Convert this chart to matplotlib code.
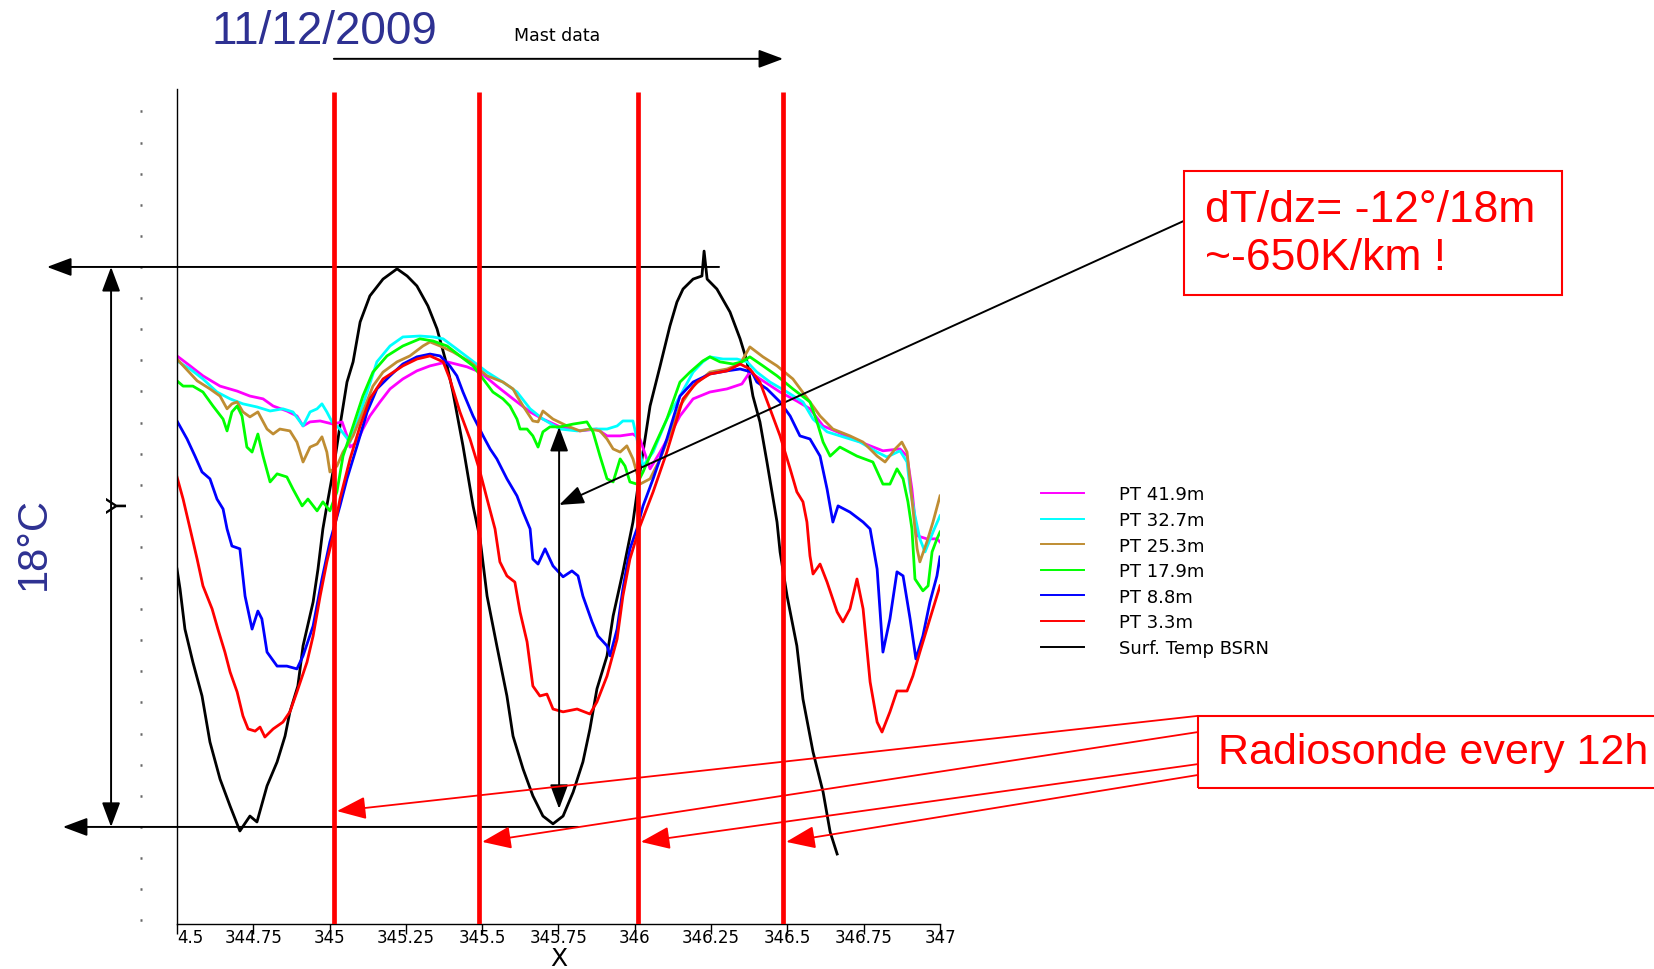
import numpy as np
import matplotlib.pyplot as plt
from matplotlib.lines import Line2D
from matplotlib.patches import Rectangle

# ---------------- dati (giorno dell'anno, temperatura in °C) ----------------
t_sfc = [344.500, 344.510, 344.526, 344.552, 344.582, 344.608, 344.641, 344.674, 344.706, 344.739,
         344.762, 344.795, 344.828, 344.854, 344.870, 344.896, 344.913, 344.946, 344.962, 344.978,
         344.991, 345.011, 345.034, 345.057, 345.077, 345.100, 345.132, 345.175, 345.221, 345.254,
         345.286, 345.322, 345.352, 345.385, 345.404, 345.437, 345.470, 345.493, 345.516, 345.548,
         345.581, 345.601, 345.634, 345.666, 345.699, 345.732, 345.765, 345.798, 345.830, 345.853,
         345.876, 345.909, 345.929, 345.961, 345.994, 346.017, 346.050, 346.083, 346.115, 346.138,
         346.158, 346.191, 346.220, 346.227, 346.237, 346.269, 346.312, 346.345, 346.368, 346.387,
         346.410, 346.433, 346.466, 346.476, 346.499, 346.531, 346.551, 346.584, 346.617, 346.640,
         346.663]
T_sfc = [-36.71, -37.35, -38.64, -39.70, -40.79, -42.27, -43.46, -44.33, -45.13, -44.65,
         -44.84, -43.68, -42.91, -42.08, -41.30, -40.47, -39.18, -37.77, -36.71, -35.42,
         -34.68, -33.59, -32.11, -30.70, -30.05, -28.77, -27.93, -27.39, -27.06, -27.29,
         -27.61, -28.25, -28.99, -30.18, -31.02, -32.75, -34.68, -35.74, -37.58, -39.18,
         -40.79, -42.08, -43.14, -44.00, -44.65, -44.90, -44.65, -43.88, -42.91, -41.85,
         -40.56, -39.50, -38.22, -36.80, -35.20, -33.59, -31.47, -30.18, -28.90, -28.13,
         -27.71, -27.39, -27.29, -26.49, -27.39, -27.71, -28.45, -29.31, -30.05, -31.15,
         -31.98, -33.27, -35.20, -36.16, -37.58, -39.18, -40.89, -42.59, -43.88, -45.16,
         -45.87]

t_pt419 = [344.500, 344.543, 344.585, 344.641, 344.697, 344.739, 344.782, 344.815, 344.860, 344.893,
           344.913, 344.936, 344.969, 345.011, 345.041, 345.057, 345.067, 345.090, 345.109, 345.132,
           345.165, 345.198, 345.240, 345.286, 345.329, 345.385, 345.450, 345.493, 345.548, 345.601,
           345.657, 345.699, 345.755, 345.820, 345.876, 345.909, 345.952, 345.994, 346.017, 346.050,
           346.083, 346.125, 346.148, 346.191, 346.246, 346.302, 346.351, 346.377, 346.420, 346.476,
           346.531, 346.574, 346.617, 346.663, 346.715, 346.771, 346.813, 346.869, 346.892, 346.908,
           346.918, 346.928, 346.957, 346.990, 347.000]
T_pt419 = [-29.86, -30.18, -30.50, -30.83, -30.99, -31.15, -31.24, -31.47, -31.63, -31.79,
           -32.11, -31.98, -31.95, -32.05, -31.98, -32.43, -32.79, -32.63, -32.21, -31.79,
           -31.34, -30.92, -30.60, -30.34, -30.18, -30.05, -30.21, -30.38, -30.83, -31.24,
           -31.66, -31.89, -32.14, -32.27, -32.21, -32.43, -32.43, -32.37, -32.53, -33.49,
           -32.95, -32.21, -31.79, -31.24, -31.02, -30.92, -30.76, -30.38, -30.66, -31.02,
           -31.31, -31.56, -32.11, -32.30, -32.53, -32.75, -32.91, -32.85, -33.08, -34.14,
           -35.10, -35.65, -35.74, -35.74, -35.84]

t_pt327 = [344.500, 344.543, 344.585, 344.631, 344.674, 344.716, 344.762, 344.805, 344.847, 344.880,
           344.913, 344.936, 344.959, 344.975, 344.991, 345.008, 345.034, 345.067, 345.090, 345.123,
           345.155, 345.198, 345.240, 345.296, 345.339, 345.372, 345.417, 345.460, 345.516, 345.568,
           345.614, 345.657, 345.699, 345.755, 345.811, 345.863, 345.909, 345.942, 345.961, 345.994,
           346.007, 346.027, 346.060, 346.105, 346.148, 346.191, 346.223, 346.246, 346.289, 346.335,
           346.368, 346.400, 346.443, 346.499, 346.551, 346.584, 346.630, 346.682, 346.738, 346.794,
           346.826, 346.869, 346.892, 346.902, 346.918, 346.934, 346.951, 346.977, 347.000]
T_pt327 = [-30.02, -30.28, -30.60, -31.02, -31.24, -31.40, -31.50, -31.63, -31.56, -31.66,
           -32.11, -31.66, -31.56, -31.40, -31.66, -31.98, -32.21, -32.63, -31.98, -31.02,
           -30.05, -29.54, -29.25, -29.22, -29.25, -29.31, -29.64, -29.96, -30.38, -30.70,
           -31.02, -31.56, -31.89, -32.21, -32.27, -32.21, -32.21, -32.11, -31.95, -31.95,
           -32.53, -33.40, -32.95, -31.89, -31.15, -30.38, -30.05, -29.89, -29.96, -29.96,
           -30.05, -30.38, -30.70, -31.02, -31.34, -31.89, -32.30, -32.46, -32.63, -32.95,
           -33.11, -32.91, -33.27, -34.14, -35.00, -35.74, -36.16, -35.52, -35.00]

t_pt253 = [344.500, 344.566, 344.608, 344.641, 344.664, 344.680, 344.697, 344.716, 344.739, 344.765,
           344.795, 344.815, 344.837, 344.870, 344.893, 344.913, 344.936, 344.959, 344.975, 344.991,
           345.001, 345.024, 345.044, 345.077, 345.109, 345.142, 345.175, 345.221, 345.263, 345.306,
           345.329, 345.362, 345.404, 345.460, 345.516, 345.568, 345.601, 345.614, 345.634, 345.666,
           345.683, 345.699, 345.732, 345.778, 345.820, 345.853, 345.886, 345.909, 345.929, 345.952,
           345.974, 345.994, 346.017, 346.050, 346.083, 346.125, 346.148, 346.191, 346.246, 346.302,
           346.345, 346.377, 346.420, 346.466, 346.518, 346.574, 346.607, 346.649, 346.705, 346.748,
           346.794, 346.820, 346.853, 346.875, 346.892, 346.902, 346.925, 346.934, 346.957, 346.977,
           347.000]
T_pt253 = [-29.96, -30.66, -30.92, -31.15, -31.56, -31.40, -31.34, -31.66, -31.82, -31.66,
           -32.21, -32.37, -32.21, -32.27, -32.63, -33.27, -32.79, -32.69, -32.46, -32.95,
           -33.59, -33.40, -32.95, -32.43, -31.66, -30.83, -30.38, -30.05, -29.86, -29.54,
           -29.41, -29.54, -29.73, -30.05, -30.50, -30.70, -30.92, -31.15, -31.47, -31.95,
           -31.98, -31.63, -31.89, -32.11, -32.27, -32.21, -32.27, -32.53, -32.85, -32.95,
           -32.75, -33.17, -33.98, -33.81, -33.17, -32.11, -31.47, -30.83, -30.38, -30.28,
           -30.12, -29.57, -29.89, -30.18, -30.60, -31.34, -31.79, -32.21, -32.43, -32.63,
           -33.08, -33.27, -32.85, -32.63, -32.95, -33.91, -36.06, -36.48, -35.84, -35.20,
           -34.36]

t_pt179 = [344.500, 344.520, 344.552, 344.585, 344.618, 344.651, 344.664, 344.680, 344.697, 344.713,
           344.729, 344.746, 344.765, 344.782, 344.805, 344.828, 344.860, 344.880, 344.910, 344.929,
           344.959, 344.978, 345.001, 345.024, 345.044, 345.077, 345.109, 345.142, 345.188, 345.240,
           345.296, 345.339, 345.385, 345.427, 345.470, 345.503, 345.535, 345.568, 345.591, 345.614,
           345.624, 345.647, 345.666, 345.683, 345.699, 345.722, 345.755, 345.798, 345.843, 345.863,
           345.886, 345.909, 345.929, 345.952, 345.968, 345.984, 346.007, 346.027, 346.060, 346.105,
           346.148, 346.181, 346.223, 346.246, 346.279, 346.322, 346.351, 346.377, 346.420, 346.466,
           346.518, 346.574, 346.597, 346.617, 346.640, 346.672, 346.728, 346.780, 346.813, 346.836,
           346.859, 346.879, 346.895, 346.908, 346.918, 346.944, 346.961, 346.974, 346.990, 347.000]
T_pt179 = [-30.66, -30.83, -30.83, -31.02, -31.47, -31.89, -32.27, -31.66, -31.47, -31.79,
           -32.79, -32.95, -32.37, -33.08, -33.91, -33.65, -33.75, -34.14, -34.68, -34.46,
           -34.84, -34.55, -34.84, -34.23, -33.08, -32.11, -31.15, -30.38, -29.86, -29.54,
           -29.31, -29.38, -29.54, -29.86, -30.18, -30.60, -31.02, -31.24, -31.47, -31.89,
           -32.21, -32.21, -32.43, -32.79, -32.30, -32.14, -32.14, -32.05, -31.98, -32.30,
           -33.08, -33.81, -33.91, -33.17, -33.40, -33.91, -33.98, -33.59, -32.85, -31.89,
           -30.70, -30.38, -30.02, -29.89, -30.05, -30.12, -30.05, -29.89, -30.18, -30.50,
           -30.92, -31.34, -31.98, -32.63, -33.08, -32.79, -33.08, -33.27, -33.98, -33.98,
           -33.49, -33.81, -34.55, -35.42, -37.03, -37.41, -37.25, -36.16, -35.74, -35.52]

t_pt88 = [344.500, 344.533, 344.559, 344.582, 344.608, 344.631, 344.651, 344.664, 344.680, 344.706,
          344.723, 344.746, 344.765, 344.778, 344.795, 344.828, 344.860, 344.893, 344.913, 344.946,
          344.975, 345.001, 345.034, 345.057, 345.090, 345.123, 345.155, 345.198, 345.240, 345.286,
          345.329, 345.362, 345.394, 345.417, 345.437, 345.470, 345.503, 345.526, 345.548, 345.581,
          345.614, 345.634, 345.657, 345.666, 345.683, 345.706, 345.732, 345.765, 345.794, 345.814,
          345.830, 345.860, 345.879, 345.909, 345.919, 345.942, 345.961, 345.984, 346.007, 346.027,
          346.060, 346.105, 346.148, 346.191, 346.246, 346.302, 346.345, 346.384, 346.400, 346.433,
          346.476, 346.509, 346.541, 346.574, 346.607, 346.630, 346.649, 346.666, 346.705, 346.748,
          346.771, 346.794, 346.813, 346.836, 346.859, 346.879, 346.902, 346.921, 346.944, 346.967,
          346.990, 347.000]
T_pt88 = [-31.95, -32.53, -33.08, -33.59, -33.81, -34.46, -34.78, -35.42, -35.97, -36.06,
          -37.58, -38.64, -38.06, -38.31, -39.38, -39.83, -39.83, -39.92, -39.50, -38.54,
          -37.03, -35.84, -34.68, -33.81, -32.75, -31.66, -30.92, -30.50, -30.12, -29.89,
          -29.80, -29.86, -30.18, -30.50, -31.02, -31.79, -32.43, -32.85, -33.17, -33.81,
          -34.36, -34.88, -35.42, -36.39, -36.55, -36.06, -36.61, -36.96, -36.77, -36.93,
          -37.58, -38.41, -38.86, -39.18, -39.50, -38.64, -37.35, -36.06, -35.42, -34.68,
          -33.81, -32.53, -31.15, -30.70, -30.44, -30.34, -30.28, -30.38, -30.70, -30.92,
          -31.34, -31.79, -32.43, -32.53, -33.08, -34.14, -35.20, -34.68, -34.88, -35.20,
          -35.42, -36.71, -39.38, -38.31, -36.80, -36.93, -38.31, -39.60, -38.86, -37.77,
          -36.93, -36.32]

t_pt33 = [344.500, 344.520, 344.543, 344.566, 344.585, 344.615, 344.634, 344.657, 344.674, 344.697,
          344.716, 344.733, 344.756, 344.772, 344.788, 344.815, 344.847, 344.870, 344.893, 344.926,
          344.946, 344.969, 344.991, 345.011, 345.034, 345.067, 345.100, 345.132, 345.175, 345.240,
          345.286, 345.329, 345.372, 345.394, 345.427, 345.460, 345.493, 345.516, 345.542, 345.558,
          345.581, 345.607, 345.624, 345.647, 345.666, 345.689, 345.712, 345.732, 345.765, 345.811,
          345.853, 345.876, 345.909, 345.942, 345.961, 345.984, 346.017, 346.060, 346.105, 346.158,
          346.204, 346.246, 346.302, 346.345, 346.377, 346.410, 346.443, 346.476, 346.509, 346.531,
          346.551, 346.564, 346.574, 346.584, 346.607, 346.630, 346.663, 346.682, 346.705, 346.728,
          346.748, 346.771, 346.794, 346.810, 346.836, 346.859, 346.892, 346.911, 346.934, 346.967,
          347.000]
T_pt33 = [-33.75, -34.46, -35.42, -36.39, -37.25, -37.99, -38.64, -39.38, -40.02, -40.66,
          -41.43, -41.85, -41.92, -41.79, -42.11, -41.85, -41.63, -41.30, -40.66, -39.70,
          -38.86, -37.58, -36.48, -35.65, -34.46, -33.17, -32.11, -31.24, -30.60, -30.18,
          -29.96, -29.86, -30.05, -30.60, -31.66, -32.53, -33.59, -34.46, -35.42, -36.48,
          -36.93, -37.13, -38.09, -39.05, -40.47, -40.79, -40.73, -41.21, -41.30, -41.21,
          -41.37, -40.98, -40.15, -38.96, -37.58, -36.39, -35.33, -34.23, -32.95, -31.24,
          -30.70, -30.44, -30.34, -30.12, -30.28, -30.70, -31.56, -32.43, -33.49, -34.23,
          -34.55, -35.20, -36.29, -36.87, -36.55, -37.13, -38.09, -38.41, -37.99, -37.03,
          -37.99, -40.34, -41.63, -41.95, -41.30, -40.63, -40.63, -40.15, -39.38, -38.31,
          -37.25]

serie = [
    ("PT 41.9m", t_pt419, T_pt419, "#FF00FF"),
    ("PT 32.7m", t_pt327, T_pt327, "#00FFFF"),
    ("PT 25.3m", t_pt253, T_pt253, "#BF8D33"),
    ("PT 17.9m", t_pt179, T_pt179, "#00FF00"),
    ("PT 8.8m", t_pt88, T_pt88, "#0000FF"),
    ("PT 3.3m", t_pt33, T_pt33, "#FF0000"),
]

radiosonde = [345.014, 345.490, 346.010, 346.486]   # lanci ogni 12h
xticks = [344.5, 344.75, 345, 345.25, 345.5, 345.75, 346, 346.25, 346.5, 346.75, 347]
xlabels = ["4.5", "344.75", "345", "345.25", "345.5", "345.75", "346", "346.25", "346.5", "346.75", "347"]

T_max, T_min = -27.0, -45.0
blu = "#2E3192"

# ---------------- figura ----------------
fig = plt.figure(figsize=(16.54, 9.70), dpi=100)
ax = fig.add_axes([0.10701, 0.04639, 0.46131, 0.86082])
ax.set_xlim(344.5, 347.0)
ax.set_ylim(-48.12, -21.28)

ax.plot(t_sfc, T_sfc, color="black", lw=2.0, zorder=2)
for nome, t, T, col in serie:
    ax.plot(t, T, color=col, lw=2.0, zorder=3)
ax.vlines(radiosonde, -48.12, -21.37, color="#FF0000", lw=3.4, zorder=5)

# assi: linea sinistra piena, tacche a puntini spostate a sinistra
ax.spines["top"].set_visible(False)
ax.spines["right"].set_visible(False)
ax.spines["left"].set_position(("outward", 25))
ax.spines["left"].set_visible(False)
ax.axvline(344.5, color="black", lw=1.0, clip_on=False, zorder=6)
ax.spines["bottom"].set_linewidth(1.0)
ax.set_yticks(np.arange(-48, -21))
ax.tick_params(axis="y", length=1.8, width=1.8, color="#666666", labelleft=False)
ax.set_xticks(xticks, labels=xlabels)
ax.tick_params(axis="x", direction="out", length=7, width=1, pad=-4, labelsize=12)
ax.get_xticklabels()[0].set_horizontalalignment("left")
ax.set_xlabel("X", fontsize=18, labelpad=0)
ax.set_ylabel("Y", fontsize=19)
ax.yaxis.set_label_coords(-0.057, 0.5018)

# frecce nere (escursione di 18°C)
testa = dict(color="black", lw=1.4, shrinkA=0, shrinkB=0, mutation_scale=20)
ax.annotate("", xy=(344.074, T_max), xytext=(346.276, T_max), annotation_clip=False,
            arrowprops=dict(arrowstyle="-|>,head_length=0.75,head_width=0.28", **testa))
ax.annotate("", xy=(344.126, T_min), xytext=(345.814, T_min), annotation_clip=False,
            arrowprops=dict(arrowstyle="-|>,head_length=0.75,head_width=0.28", **testa))
ax.annotate("", xy=(344.284, T_max), xytext=(344.284, T_min), annotation_clip=False,
            arrowprops=dict(arrowstyle="<|-|>,head_length=0.75,head_width=0.28", **testa))
ax.annotate("", xy=(345.752, -32.14), xytext=(345.752, -44.42),
            arrowprops=dict(arrowstyle="<|-|>,head_length=0.75,head_width=0.28", **testa))
ax.annotate("", xy=(345.752, -34.65), xytext=(347.799, -25.52), annotation_clip=False,
            arrowprops=dict(arrowstyle="-|>,head_length=0.75,head_width=0.28", **testa))
ax.annotate("", xy=(346.486, -20.31), xytext=(345.014, -20.31), annotation_clip=False,
            arrowprops=dict(arrowstyle="-|>,head_length=0.75,head_width=0.28", **testa))

# frecce rosse verso i lanci delle radiosonde
partenze = [-41.43, -41.95, -42.98, -43.33]
arrivi = [-44.49, -45.48, -45.48, -45.48]
for xr, y0, y1 in zip(radiosonde, partenze, arrivi):
    ax.annotate("", xy=(xr + 0.01, y1), xytext=(347.845, y0), annotation_clip=False,
                arrowprops=dict(arrowstyle="-|>,head_length=0.9,head_width=0.35", color="#FF0000",
                                lw=1.3, shrinkA=0, shrinkB=0, mutation_scale=20), zorder=7)

# legenda
maniglie = [Line2D([], [], color=col, lw=1.4) for _, _, _, col in serie]
maniglie.append(Line2D([], [], color="black", lw=1.4))
etichette = [s[0] for s in serie] + ["Surf. Temp BSRN"]
fig.legend(maniglie, etichette, loc="upper left", bbox_to_anchor=(0.6294, 0.4985),
           frameon=False, fontsize=13, handlelength=2.4, handletextpad=1.9,
           labelspacing=0.42, borderpad=0, borderaxespad=0)

# testi della slide
fig.text(0.1276, 0.967, "11/12/2009", fontsize=33, color=blu, family="Liberation Sans",
         ha="left", va="center")
fig.text(0.3368, 0.9629, "Mast data", fontsize=12.5, ha="center", va="center")
fig.text(0.0206, 0.4402, "18°C", fontsize=30, color=blu, family="Liberation Sans",
         rotation=90, ha="center", va="center")

fig.patches.append(Rectangle((0.7158, 0.6948), 0.2286, 0.1279, transform=fig.transFigure,
                             fill=False, edgecolor="#FF0000", lw=1.5))
fig.text(0.7285, 0.7825, "dT/dz= -12°/18m", fontsize=32, color="#FF0000",
         family="Liberation Sans", ha="left", va="center")
fig.text(0.7285, 0.734, "~-650K/km !", fontsize=32, color="#FF0000",
         family="Liberation Sans", ha="left", va="center")

fig.patches.append(Rectangle((0.7243, 0.1866), 0.3, 0.0742, transform=fig.transFigure,
                             fill=False, edgecolor="#FF0000", lw=1.5))
fig.text(0.7364, 0.2237, "Radiosonde every 12h", fontsize=31, color="#FF0000",
         family="Liberation Sans", ha="left", va="center")

fig.savefig("out.png", dpi=100)
